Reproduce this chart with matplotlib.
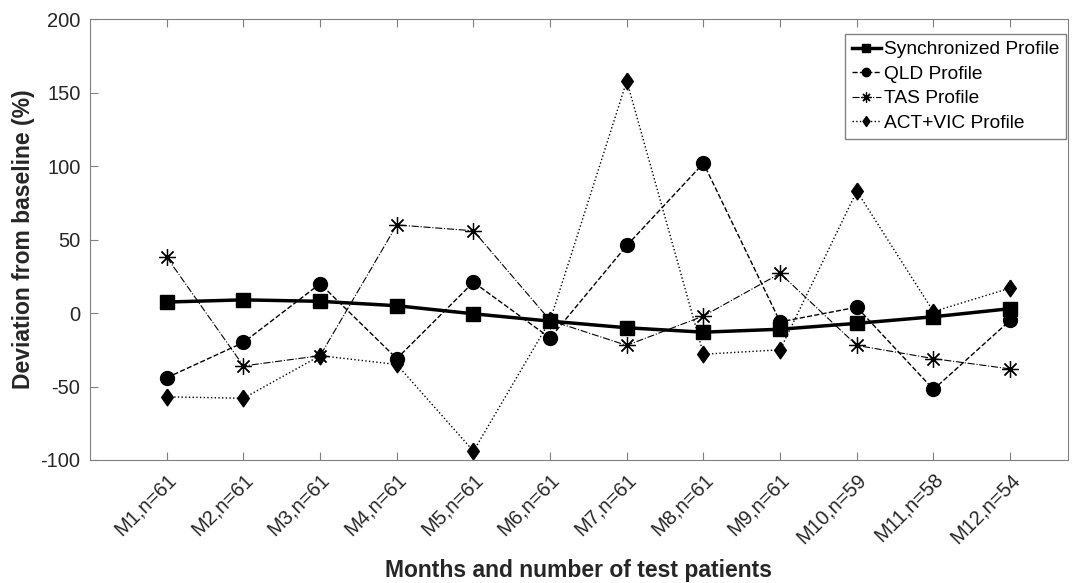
import matplotlib
matplotlib.use('Agg')
import matplotlib.pyplot as plt

plt.rcParams['font.family'] = ['Liberation Sans', 'DejaVu Sans']
plt.rcParams['axes.unicode_minus'] = False

# Data
months = ['M1,n=61', 'M2,n=61', 'M3,n=61', 'M4,n=61', 'M5,n=61', 'M6,n=61',
          'M7,n=61', 'M8,n=61', 'M9,n=61', 'M10,n=59', 'M11,n=58', 'M12,n=54']
sync = [7.5, 9, 8, 5, -0.5, -5.5, -10, -13, -11, -7, -2.5, 3]
qld = [-44, -20, 20, -31, 21, -17, 46, 102, -6, 4, -52, -5]
tas = [38, -36, -29, 60, 56, -5, -22, -2, 27, -22, -31, -38]
actvic = [-57, -58, -29, -35, -94, -5, 158, -28, -25, 83, 1, 17]

x = list(range(1, len(months) + 1))

# MATLAB-style diamond (taller than wide)
diamond = [(0, 1), (0.7, 0), (0, -1), (-0.7, 0), (0, 1)]

fig = plt.figure(figsize=(10.73, 5.83), dpi=100)
ax = fig.add_axes([0.084, 0.211, 0.911, 0.756])

ax.plot(x, sync, '-', color='black', lw=2.5, marker='s', ms=10, label='Synchronized Profile')
ax.plot(x, qld, '--', color='black', lw=1, marker='o', ms=10, label='QLD Profile')
ax.plot(x, tas, '-.', color='black', lw=0.8, marker=(8, 2, 0), ms=12, mew=0.9, label='TAS Profile')
ax.plot(x, actvic, ':', color='black', lw=1, marker=diamond, ms=12, label='ACT+VIC Profile')

ax.set_xlim(0, 12.75)
ax.set_ylim(-100, 200)
ax.set_yticks([-100, -50, 0, 50, 100, 150, 200])
ax.set_xticks(x)
ax.set_xticklabels(months, rotation=45, ha='right', rotation_mode='anchor')

for s in ax.spines.values():
    s.set_color('#808080')
ax.tick_params(direction='in', length=6, color='#808080', labelsize=14.5,
               labelcolor='#262626', top=True, right=False, pad=7)

ax.set_xlabel('Months and number of test patients', fontsize=16.5, fontweight='bold',
              color='#262626', labelpad=9)
ax.set_ylabel('Deviation from baseline (%)', fontsize=16.5, fontweight='bold',
              color='#262626', labelpad=4)

leg = ax.legend(loc='upper right', bbox_to_anchor=(0.998, 0.966), borderaxespad=0,
                fontsize=13.8, handlelength=1.5, handletextpad=0.15,
                borderpad=0.35, labelspacing=0.37, fancybox=False, framealpha=1,
                markerscale=0.6)
leg.get_frame().set_edgecolor('#808080')

fig.savefig('out.png', dpi=100)
